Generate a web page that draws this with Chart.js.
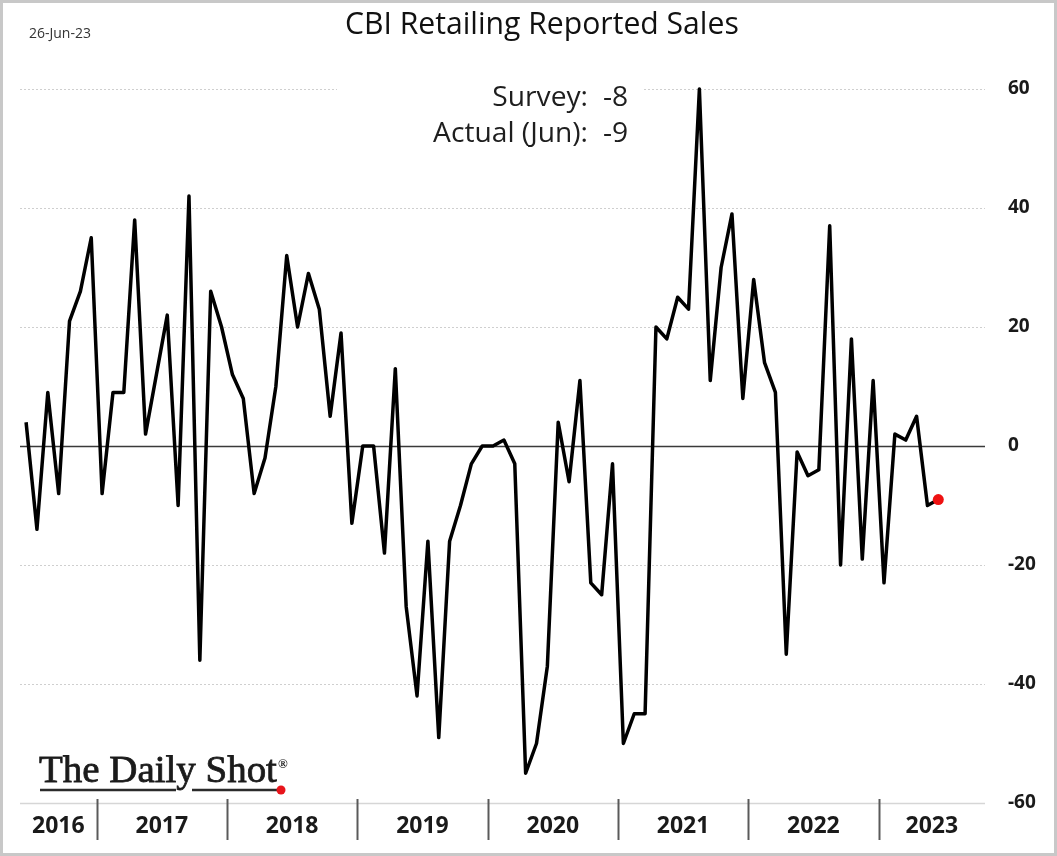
<!DOCTYPE html>
<html>
<head>
<meta charset="utf-8">
<title>CBI Retailing Reported Sales</title>
<script src="https://cdn.jsdelivr.net/npm/chart.js@4.4.0/dist/chart.umd.min.js"></script>
<style>
  html, body { margin: 0; padding: 0; background: #fff; }
  #wrap { width: 1057px; height: 856px; position: relative; }
</style>
</head>
<body>
<div id="wrap"><canvas id="chart" width="1057" height="856"></canvas></div>
<script>
// monthly balance, Jun 2016 .. Jun 2023
var startYear = 2016;
var startMonth = 6;
var sales = [
    4, -14, 9, -8, 21, 26, 35,
    -8, 9, 9, 38, 2, 12, 22, -10, 42, -36, 26, 20,
    12, 8, -8, -2, 10, 32, 20, 29, 23, 5, 19, -13,
    0, 0, -18, 13, -27, -42, -16, -49, -16, -10, -3, 0,
    0, 1, -3, -55, -50, -37, 4, -6, 11, -23, -25, -3,
    -50, -45, -45, 20, 18, 25, 23, 60, 11, 30, 39, 8,
    28, 14, 9, -35, -1, -5, -4, 37, -20, 18, -19, 11,
    -23, 2, 1, 5, -10, -9
];
var years = ['2016', '2017', '2018', '2019', '2020', '2021', '2022', '2023'];
var yTicks = [60, 40, 20, 0, -20, -40, -60];
var surveyValue = -8;
var actualValue = -9;
var actualMonth = 'Jun';
var reportDate = '26-Jun-23';

// months counted from Jan of the first year
var points = [];
for (var i = 0; i < sales.length; i++) {
    points.push({ x: startMonth - 1 + i, y: sales[i] });
}
var lastIdx = sales.length - 1;

function fitSize(ctx, text, weight, family, width) {
    ctx.font = weight + ' 100px ' + family;
    return 100 * width / ctx.measureText(text).width;
}

var decorations = {
    id: 'decorations',
    beforeDraw: function (chart) {
        var ctx = chart.ctx;
        ctx.save();
        ctx.fillStyle = '#fff';
        ctx.fillRect(0, 0, chart.width, chart.height);
        ctx.restore();
    },
    beforeDatasetsDraw: function (chart) {
        var ctx = chart.ctx, area = chart.chartArea, ys = chart.scales.y;
        ctx.save();
        yTicks.forEach(function (v) {
            var py = Math.round(ys.getPixelForValue(v)) + 0.5;
            ctx.beginPath();
            if (v === 0) {
                ctx.setLineDash([]);
                ctx.strokeStyle = '#3a3a3a';
                ctx.lineWidth = 1.5;
            } else if (v === -60) {
                ctx.setLineDash([]);
                ctx.strokeStyle = '#d6d6d6';
                ctx.lineWidth = 1.5;
            } else {
                ctx.setLineDash([2, 2]);
                ctx.strokeStyle = '#cfcfcf';
                ctx.lineWidth = 1;
            }
            ctx.moveTo(area.left, py);
            ctx.lineTo(area.right, py);
            ctx.stroke();
        });
        ctx.setLineDash([]);

        // survey box sits on top of the 60 gridline
        ctx.fillStyle = '#fff';
        ctx.fillRect(337, 72, 305, 80);
        var fs = fitSize(ctx, 'Actual (Jun):', 'normal', '"Open Sans"', 155);
        ctx.font = 'normal ' + fs + 'px "Open Sans"';
        ctx.fillStyle = '#1e1e1e';
        ctx.textBaseline = 'alphabetic';
        ctx.textAlign = 'right';
        ctx.fillText('Survey:', 588, 106);
        ctx.fillText('Actual (' + actualMonth + '):', 588, 142);
        ctx.textAlign = 'left';
        ctx.fillText(String(surveyValue), 603, 106);
        ctx.fillText(String(actualValue), 603, 142);
        ctx.restore();
    },
    afterDraw: function (chart) {
        var ctx = chart.ctx, area = chart.chartArea, xs = chart.scales.x;
        ctx.save();

        // title + date
        var ts = fitSize(ctx, 'CBI Retailing Reported Sales', 'normal', '"Open Sans"', 394);
        ctx.font = 'normal ' + ts + 'px "Open Sans"';
        ctx.fillStyle = '#111';
        ctx.textAlign = 'left';
        ctx.textBaseline = 'alphabetic';
        ctx.fillText('CBI Retailing Reported Sales', 345, 34);
        var ds = fitSize(ctx, reportDate, 'normal', '"Open Sans"', 62);
        ctx.font = 'normal ' + ds + 'px "Open Sans"';
        ctx.fillStyle = '#333';
        ctx.fillText(reportDate, 29, 38);

        // year bands under the axis
        ctx.font = 'bold 23px "Open Sans"';
        ctx.fillStyle = '#1a1a1a';
        ctx.textAlign = 'center';
        ctx.strokeStyle = '#5a5a5a';
        ctx.lineWidth = 2;
        for (var k = 0; k < years.length; k++) {
            var a = Math.max(xs.getPixelForValue(k * 12 - 0.5), area.left);
            var b = Math.min(xs.getPixelForValue(k * 12 + 11.5), area.right);
            ctx.fillText(years[k], (a + b) / 2, 833);
            if (k > 0) {
                var sx = Math.round(xs.getPixelForValue(k * 12 - 0.5)) + 0.5;
                ctx.beginPath();
                ctx.moveTo(sx, area.bottom - 4);
                ctx.lineTo(sx, area.bottom + 37);
                ctx.stroke();
            }
        }

        // logo
        var ls = fitSize(ctx, 'The Daily Shot', 'normal', '"Liberation Serif"', 238);
        ctx.font = 'normal ' + ls + 'px "Liberation Serif"';
        ctx.fillStyle = '#1b1b1b';
        ctx.strokeStyle = '#1b1b1b';
        ctx.lineWidth = 0.8;
        ctx.textAlign = 'left';
        ctx.fillText('The Daily Shot', 39, 782);
        ctx.strokeText('The Daily Shot', 39, 782);
        ctx.font = 'bold 13px "Liberation Serif"';
        ctx.fillText('\u00AE', 278, 768);
        ctx.strokeStyle = '#2b2b2b';
        ctx.lineWidth = 2.5;
        ctx.beginPath();
        ctx.moveTo(40, 790);
        ctx.lineTo(176, 790);
        ctx.moveTo(192, 790);
        ctx.lineTo(278, 790);
        ctx.stroke();
        ctx.fillStyle = '#e8141b';
        ctx.beginPath();
        ctx.arc(281, 790, 4.5, 0, Math.PI * 2);
        ctx.fill();

        // frame
        ctx.strokeStyle = '#c8c8c8';
        ctx.lineWidth = 3;
        ctx.strokeRect(1.5, 1.5, chart.width - 3, chart.height - 3);
        ctx.restore();
    }
};

var ctx = document.getElementById('chart').getContext('2d');
var chart = new Chart(ctx, {
    type: 'line',
    data: {
        datasets: [{
            data: points,
            borderColor: '#000',
            borderWidth: 3.5,
            borderJoinStyle: 'round',
            tension: 0,
            clip: false,
            pointRadius: function (c) { return c.dataIndex === lastIdx ? 5.5 : 0; },
            pointHoverRadius: 0,
            pointBorderWidth: 0,
            pointBackgroundColor: '#ee1111',
            pointBorderColor: '#ee1111'
        }]
    },
    options: {
        responsive: false,
        animation: false,
        events: [],
        layout: { padding: { left: 20, top: 89, right: 0, bottom: 53 } },
        plugins: {
            legend: { display: false },
            title: { display: false },
            tooltip: { enabled: false }
        },
        scales: {
            x: {
                type: 'linear',
                display: false,
                min: 4.44,
                max: 93.3
            },
            y: {
                position: 'right',
                min: -60,
                max: 60,
                afterFit: function (s) { s.width = 72; },
                grid: { display: false, drawTicks: false },
                border: { display: false },
                ticks: {
                    stepSize: 20,
                    padding: 23,
                    color: '#1a1a1a',
                    font: { family: '"Open Sans"', weight: 'bold', size: 19 }
                }
            }
        }
    },
    plugins: [decorations]
});
</script>
</body>
</html>
